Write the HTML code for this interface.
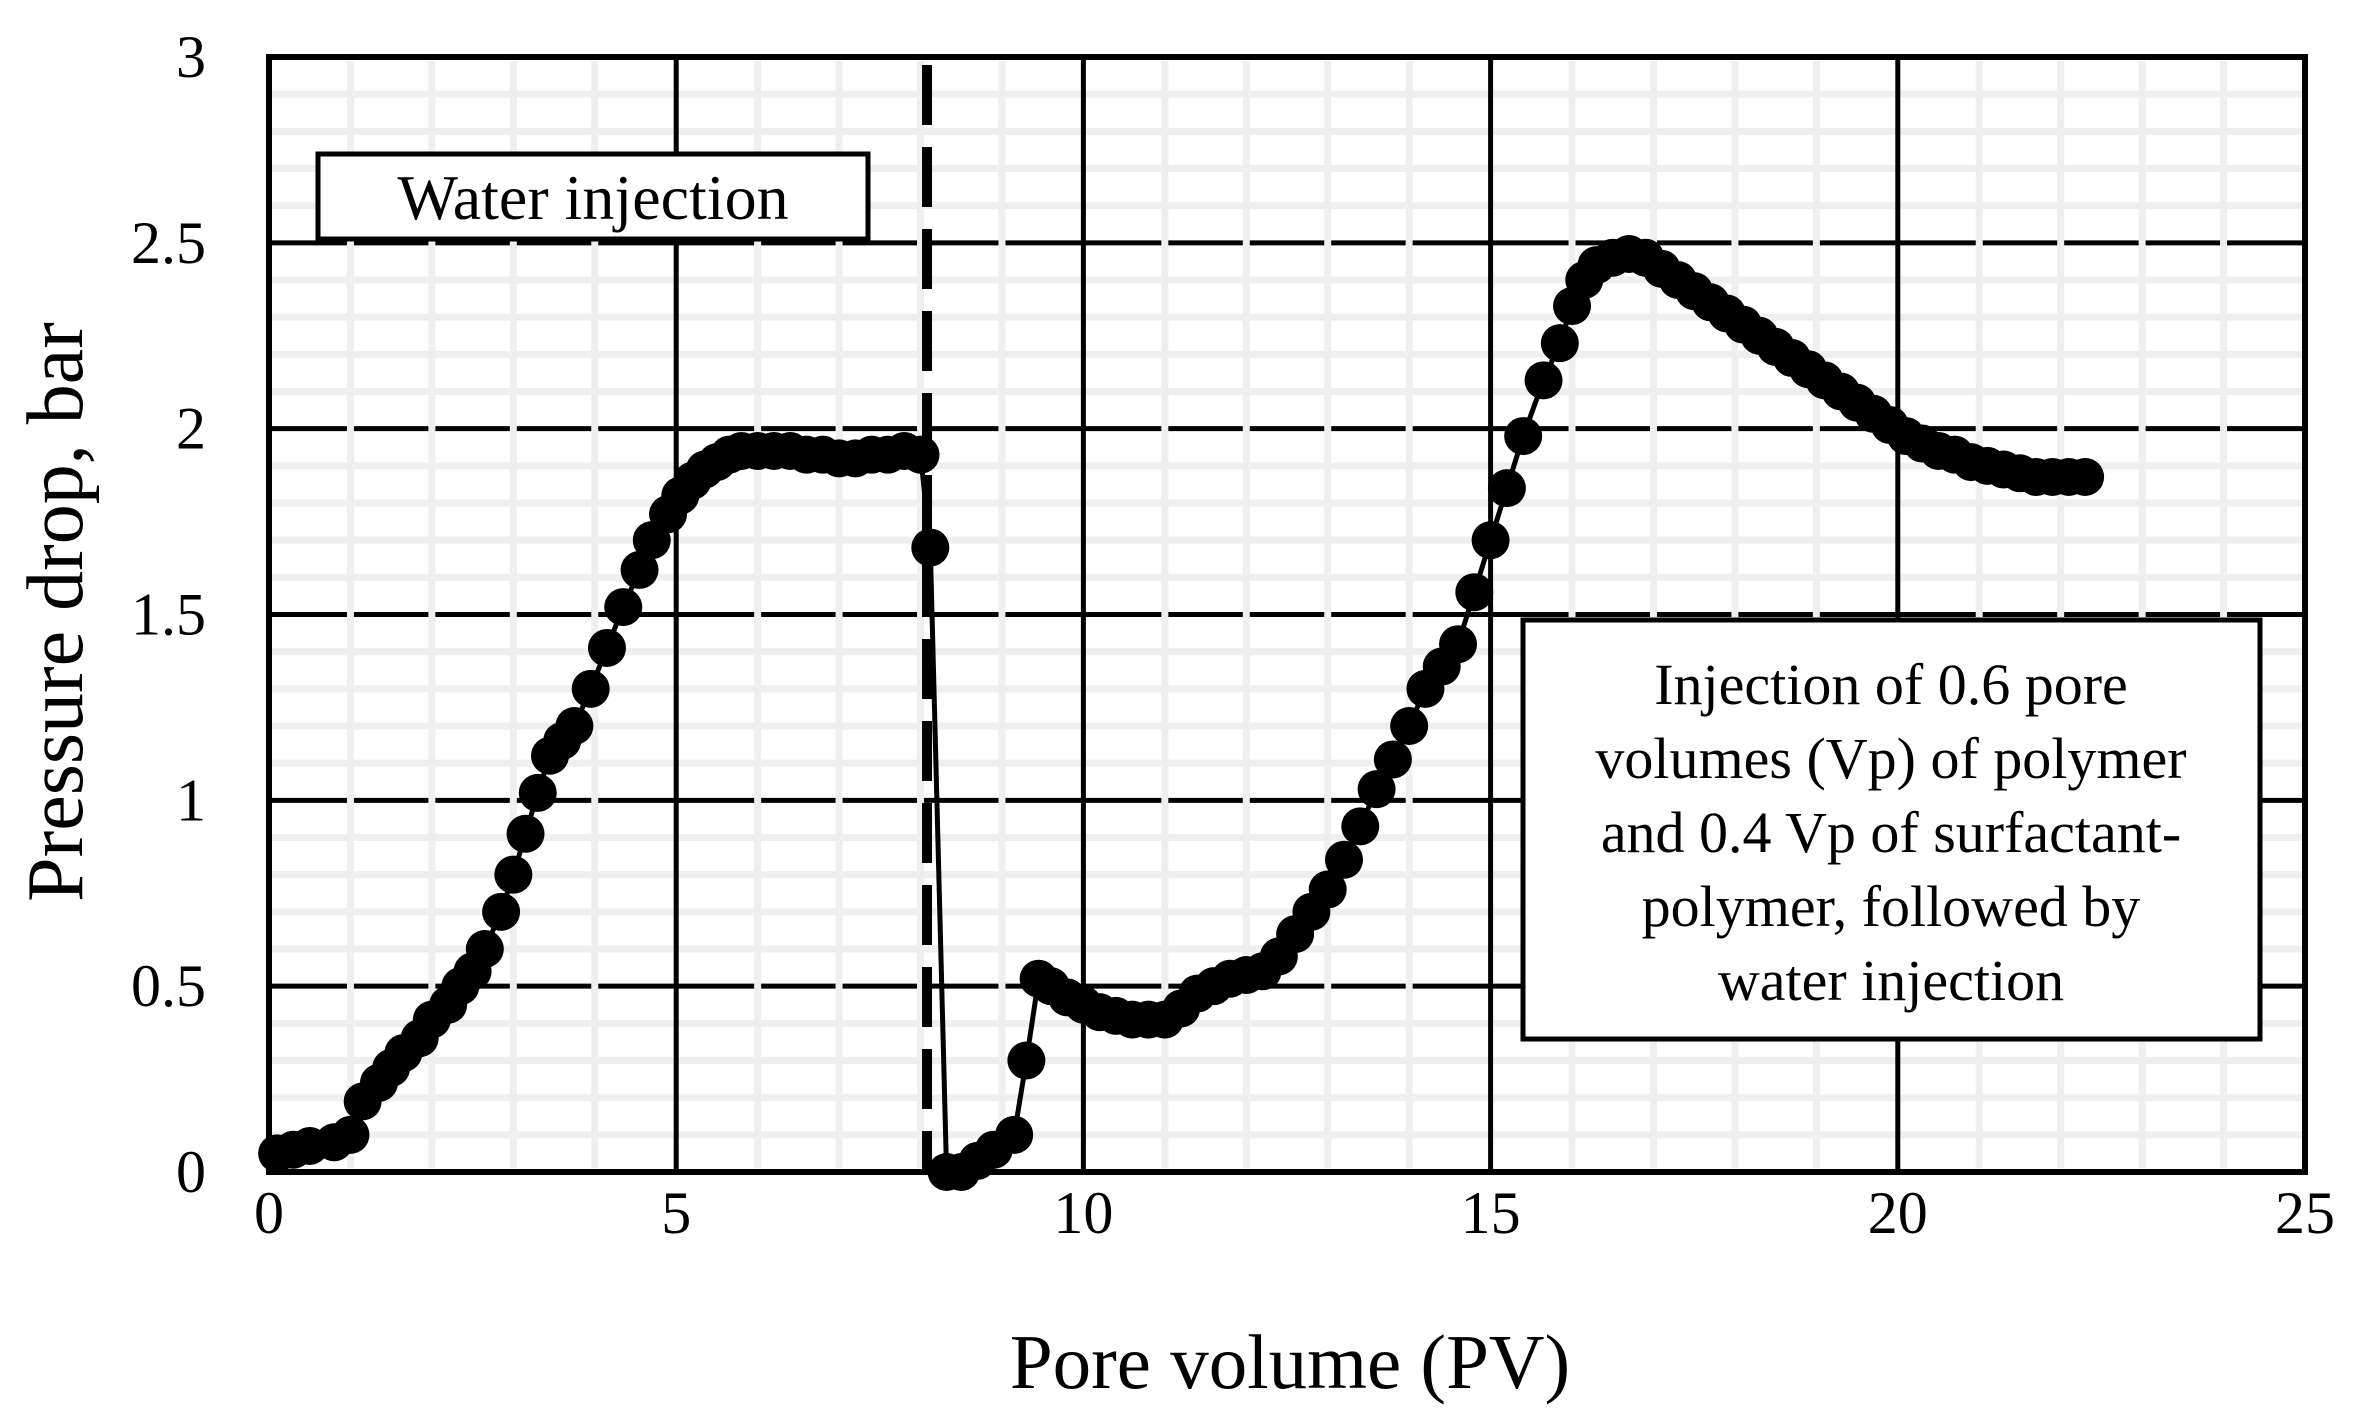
<!DOCTYPE html>
<html><head><meta charset="utf-8"><style>
html,body{margin:0;padding:0;background:#fff;}
svg{display:block;font-family:"Liberation Serif",serif;}
</style></head><body>
<svg id="chart" width="2360" height="1419" viewBox="0 0 2360 1419" xmlns="http://www.w3.org/2000/svg">
<rect width="2360" height="1419" fill="#fff"/>
<g id="grid"></g>
<g id="series"></g>
<g id="ticks"></g>
<g>
<rect x="318" y="154" width="550" height="85" fill="#fff" stroke="#000" stroke-width="5"/>
<text x="593" y="219" font-size="64" text-anchor="middle">Water injection</text>
</g>
<g>
<rect x="1523" y="620" width="737" height="419" fill="#fff" stroke="#000" stroke-width="5"/>
<text x="1891" y="704" font-size="58" text-anchor="middle">Injection of 0.6 pore</text>
<text x="1891" y="778" font-size="58" text-anchor="middle">volumes (Vp) of polymer</text>
<text x="1891" y="852" font-size="58" text-anchor="middle">and 0.4 Vp of surfactant-</text>
<text x="1891" y="926" font-size="58" text-anchor="middle">polymer, followed by</text>
<text x="1891" y="1000" font-size="58" text-anchor="middle">water injection</text>
</g>
<text transform="translate(82,612) rotate(-90)" font-size="80" text-anchor="middle">Pressure drop, bar</text>
<text x="1290" y="1388" font-size="77" text-anchor="middle">Pore volume (PV)</text>
</svg>
<script>
const xTicks=[0,5,10,15,20,25];
const yTicks=[0,0.5,1,1.5,2,2.5,3];
const xTickLabels=["0","5","10","15","20","25"];
const yTickLabels=["0","0.5","1","1.5","2","2.5","3"];
const dividerX=8.08;
const pvValues=[0.1,0.3,0.5,0.8,1.0,1.15,1.35,1.5,1.65,1.85,2.0,2.2,2.35,2.5,2.65,2.85,3.0,3.15,3.3,3.45,3.6,3.75,3.95,4.15,4.35,4.55,4.7,4.9,5.05,5.2,5.35,5.5,5.65,5.8,6.0,6.2,6.4,6.6,6.8,7.0,7.2,7.4,7.6,7.8,8.0,8.12,8.32,8.5,8.7,8.9,9.15,9.3,9.45,9.6,9.8,10.0,10.2,10.4,10.6,10.8,11.0,11.2,11.4,11.6,11.8,12.0,12.2,12.4,12.6,12.8,13.0,13.2,13.4,13.6,13.8,14.0,14.2,14.4,14.6,14.8,15.0,15.2,15.4,15.65,15.85,16.0,16.15,16.3,16.5,16.7,16.9,17.1,17.3,17.5,17.7,17.9,18.1,18.3,18.5,18.7,18.9,19.1,19.3,19.5,19.7,19.9,20.1,20.3,20.5,20.7,20.9,21.1,21.3,21.5,21.7,21.9,22.1,22.3];
const dpValues=[0.05,0.06,0.07,0.08,0.1,0.19,0.24,0.28,0.32,0.36,0.41,0.45,0.5,0.54,0.6,0.7,0.8,0.91,1.02,1.12,1.16,1.2,1.3,1.41,1.52,1.62,1.7,1.77,1.82,1.86,1.89,1.91,1.93,1.94,1.94,1.94,1.94,1.93,1.93,1.92,1.92,1.93,1.93,1.94,1.93,1.68,0.0,0.0,0.03,0.06,0.1,0.3,0.52,0.5,0.47,0.45,0.43,0.42,0.41,0.41,0.41,0.44,0.48,0.5,0.52,0.53,0.54,0.58,0.64,0.7,0.76,0.84,0.93,1.03,1.11,1.2,1.3,1.36,1.42,1.56,1.7,1.84,1.98,2.13,2.23,2.33,2.4,2.44,2.46,2.47,2.46,2.43,2.4,2.37,2.34,2.31,2.28,2.25,2.22,2.19,2.16,2.13,2.1,2.07,2.04,2.01,1.98,1.96,1.94,1.93,1.91,1.9,1.89,1.88,1.87,1.87,1.87,1.87];

const L=269,R=2305,T=57,B=1172;
const sx=v=>L+(v-0)/(25-0)*(R-L);
const sy=v=>B-(v-0)/(3-0)*(B-T);
const NS="http://www.w3.org/2000/svg";
function mk(tag,parent,attrs){const e=document.createElementNS(NS,tag);for(const k in attrs)e.setAttribute(k,attrs[k]);parent.appendChild(e);return e;}
const grid=document.getElementById('grid');
for(let i=1;i<30;i++){if(i%5===0)continue;const l=mk('line',grid,{x1:L,x2:R,y1:sy(i*0.1),y2:sy(i*0.1),stroke:'#efefef','stroke-width':7});

}
yTicks.forEach(v=>{const l=mk('line',grid,{x1:L,x2:R,y1:sy(v),y2:sy(v),stroke:'#000','stroke-width':5});

});
for(let i=1;i<25;i++){if(i%5===0)continue;const l=mk('line',grid,{x1:sx(i),x2:sx(i),y1:T+4,y2:B-4,stroke:'#efefef','stroke-width':7});

}
xTicks.forEach(v=>{const l=mk('line',grid,{x1:sx(v),x2:sx(v),y1:T,y2:B,stroke:'#000','stroke-width':5});

});
const frame=mk('rect',grid,{x:L,y:T,width:R-L,height:B-T,fill:'none',stroke:'#000','stroke-width':6});


const dv=mk('line',grid,{x1:sx(dividerX),x2:sx(dividerX),y1:T+8,y2:B,stroke:'#000','stroke-width':10,'stroke-dasharray':'60 22'});



const ser=document.getElementById('series');
const pts=pvValues.map((x,i)=>sx(x)+','+sy(dpValues[i])).join(' ');
const pl=mk('polyline',ser,{points:pts,fill:'none',stroke:'#000','stroke-width':5});


pvValues.forEach((x,i)=>{const c=mk('circle',ser,{cx:sx(x),cy:sy(dpValues[i]),r:19,fill:'#000'});

});

const tk=document.getElementById('ticks');
xTicks.forEach((v,i)=>{const t=mk('text',tk,{x:sx(v),y:1233,'font-size':60,'text-anchor':'middle'});t.textContent=xTickLabels[i];

});
yTicks.forEach((v,i)=>{const t=mk('text',tk,{x:206,y:sy(v)+20,'font-size':60,'text-anchor':'end'});t.textContent=yTickLabels[i];

});
</script>
</body></html>
